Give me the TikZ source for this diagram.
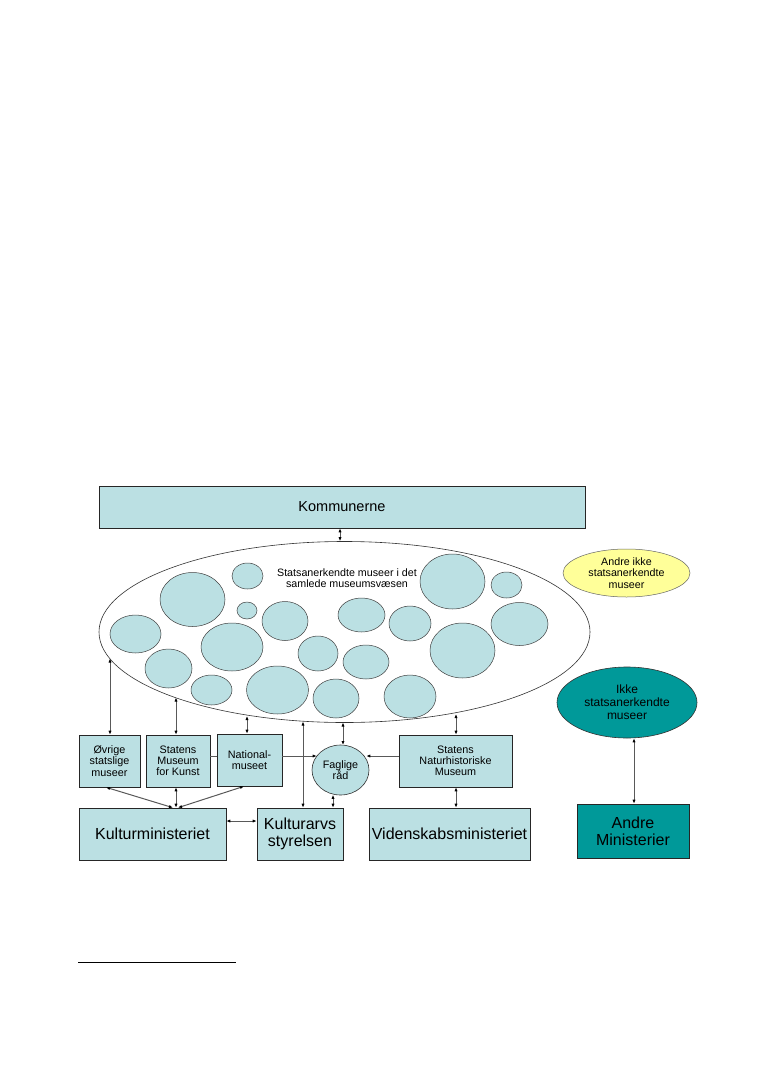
\documentclass[tikz,border=0pt]{standalone}
\usepackage{fontspec}
\setmainfont{Liberation Sans}
\usetikzlibrary{arrows.meta,calc,shapes.geometric}
\definecolor{lb}{HTML}{BBE0E3}
\definecolor{teal2}{HTML}{009999}
\definecolor{yel}{HTML}{FFFF99}
\begin{document}
\begin{tikzpicture}[x=1pt,y=-1pt,
  box/.style={draw=black!85,line width=0.6pt,fill=lb,inner sep=0pt,align=center},
  blob/.style={ellipse,draw=black!75,line width=0.5pt,fill=lb,inner sep=0pt},
  small/.style={font=\fontsize{10.8}{11.2}\selectfont},
  big/.style={font=\fontsize{16}{17}\selectfont},
  conn/.style={draw=black!65,line width=1pt,{Latex[length=4pt,width=3.2pt,black]}-{Latex[length=4pt,width=3.2pt,black]}},
  conn1/.style={draw=black!65,line width=1pt,-{Latex[length=4pt,width=3.2pt,black]}}]
\useasboundingbox (0,0) rectangle (764,1075);
\fill[white] (0,0) rectangle (764,1075);
% top box
\node[box,minimum width=486pt,minimum height=42pt,font=\fontsize{14.5}{15}\selectfont] (komm) at (342,507) {Kommunerne};
% big ellipse
\node[ellipse,draw=black!80,line width=0.6pt,minimum width=491pt,minimum height=181pt,inner sep=0pt] (big) at (344.5,632) {};
\node[align=center,font=\fontsize{10.7}{11}\selectfont] (bigtxt) at (347,578) {Statsanerkendte museer i det\\samlede museumsvæsen};
% circles
\node[blob,minimum width=31pt,minimum height=26pt] (c1) at (247.5,576) {};
\node[blob,minimum width=65pt,minimum height=54pt] (c2) at (192.5,599.5) {};
\node[blob,minimum width=20pt,minimum height=17pt] (c3) at (247,610.5) {};
\node[blob,minimum width=46pt,minimum height=39pt] (c4) at (285,621) {};
\node[blob,minimum width=51pt,minimum height=38pt] (c5) at (135.5,634) {};
\node[blob,minimum width=62pt,minimum height=48pt] (c6) at (232,647) {};
\node[blob,minimum width=47pt,minimum height=39pt] (c7) at (168.5,668.5) {};
\node[blob,minimum width=41pt,minimum height=30pt] (c8) at (211.5,690) {};
\node[blob,minimum width=62pt,minimum height=48pt] (c9) at (277.5,690) {};
\node[blob,minimum width=40pt,minimum height=35pt] (c10) at (318,653.5) {};
\node[blob,minimum width=47pt,minimum height=34pt] (c11) at (361.5,615) {};
\node[blob,minimum width=46pt,minimum height=34pt] (c12) at (366,662) {};
\node[blob,minimum width=46pt,minimum height=39pt] (c13) at (336,698.5) {};
\node[blob,minimum width=42pt,minimum height=35pt] (c14) at (410,623.5) {};
\node[blob,minimum width=52pt,minimum height=43pt] (c15) at (410,696.5) {};
\node[blob,minimum width=65pt,minimum height=55pt] (c16) at (452.5,581.5) {};
\node[blob,minimum width=31pt,minimum height=26pt] (c17) at (506.5,585) {};
\node[blob,minimum width=65pt,minimum height=55pt] (c18) at (462.5,650.5) {};
\node[blob,minimum width=57pt,minimum height=43pt] (c19) at (519.5,624) {};
% right side
\node[ellipse,draw=black!60,line width=0.5pt,fill=yel,minimum width=127pt,minimum height=48pt,inner sep=0pt,align=center,font=\fontsize{10.7}{11.5}\selectfont] (yel) at (626.5,573) {Andre ikke\\statsanerkendte\\museer};
\node[ellipse,draw=black!80,line width=0.6pt,fill=teal2,minimum width=140pt,minimum height=71pt,inner sep=0pt,align=center,font=\fontsize{12}{13}\selectfont] (ikke) at (627,702.5) {Ikke\\statsanerkendte\\museer};
\node[box,fill=teal2,minimum width=112pt,minimum height=54pt,big] (andre) at (633,831) {Andre\\Ministerier};
% lower boxes
\node[box,small,minimum width=61pt,minimum height=52pt] (ovr) at (109.5,761) {Øvrige\\statslige\\museer};
\node[box,small,minimum width=64pt,minimum height=52pt] (smk) at (178,761) {Statens\\Museum\\for Kunst};
\node[box,small,minimum width=65pt,minimum height=52pt] (nat) at (249.5,760) {National-\\museet};
\node[box,small,minimum width=113pt,minimum height=52pt] (snm) at (455.5,761) {Statens\\Naturhistoriske\\Museum};
\node[ellipse,draw=black!80,line width=0.6pt,fill=lb,inner sep=0pt,minimum width=57pt,minimum height=50pt,align=center,small] (fr) at (340.5,770) {Faglige\\råd};
\node[box,big,minimum width=147pt,minimum height=52pt] (km) at (152.5,834) {Kulturministeriet};
\node[box,big,minimum width=86pt,minimum height=52pt] (ka) at (300,834) {Kulturarvs\\styrelsen};
\node[box,big,minimum width=161pt,minimum height=52pt] (vm) at (449.5,834) {Videnskabsministeriet};
% points on the big ellipse
\coordinate (e1) at (110,658.5);
\coordinate (e2) at (176,697.5);
\coordinate (e3) at (247,716);
\coordinate (e4) at (303,721.5);
\coordinate (e5) at (343,722.5);
\coordinate (e6) at (456,714);
% connectors
\draw[conn] (komm.south -| 340,0) -- (big.north -| 340,0);
\draw[conn] (e1) -- (e1 |- ovr.north);
\draw[conn] (e2) -- (e2 |- smk.north);
\draw[conn] (e3) -- (e3 |- nat.north);
\draw[conn] (e4) -- (e4 |- ka.north);
\draw[conn] (e5) -- ($(fr.north)+(2.5,0.3)$);
\draw[conn] (e6) -- (e6 |- snm.north);
\draw[draw=black!65,line width=1pt] ($(smk.east)+(0,-5)$) -- ($(smk.east -| nat.west)+(0,-5)$);
\draw[conn1] ($(smk.east -| nat.east)+(0,-5)$) -- ($(fr.west)+(5,-14)$);
\draw[conn1] ($(snm.west)+(0,-5)$) -- ($(fr.east)+(-3,-14)$);
\draw[conn] ($(fr.south)+(-7.5,-0.5)$) -- ($(ka.north)+(33,0)$);
\draw[conn] ($(km.east)+(0,-13)$) -- ($(ka.west)+(0,-13)$);
\draw[conn] ($(ovr.south)+(-3.5,0)$) -- ($(km.north)+(20.5,0)$);
\draw[conn] ($(smk.south)+(-2,0)$) -- ($(km.north)+(23.5,0)$);
\draw[conn] ($(nat.south)+(-5.5,0)$) -- ($(km.north)+(25.5,0)$);
\draw[conn] ($(snm.south)+(0.5,0)$) -- ($(vm.north)+(6.5,0)$);
\draw[conn] ($(ikke.south)+(7,0)$) -- ($(andre.north)+(1,0)$);
% footnote rule
\coordinate (f1) at (78,962);
\coordinate (f2) at (236,962);
\draw[line width=0.7pt] (f1) -- (f2);
\end{tikzpicture}
\end{document}
